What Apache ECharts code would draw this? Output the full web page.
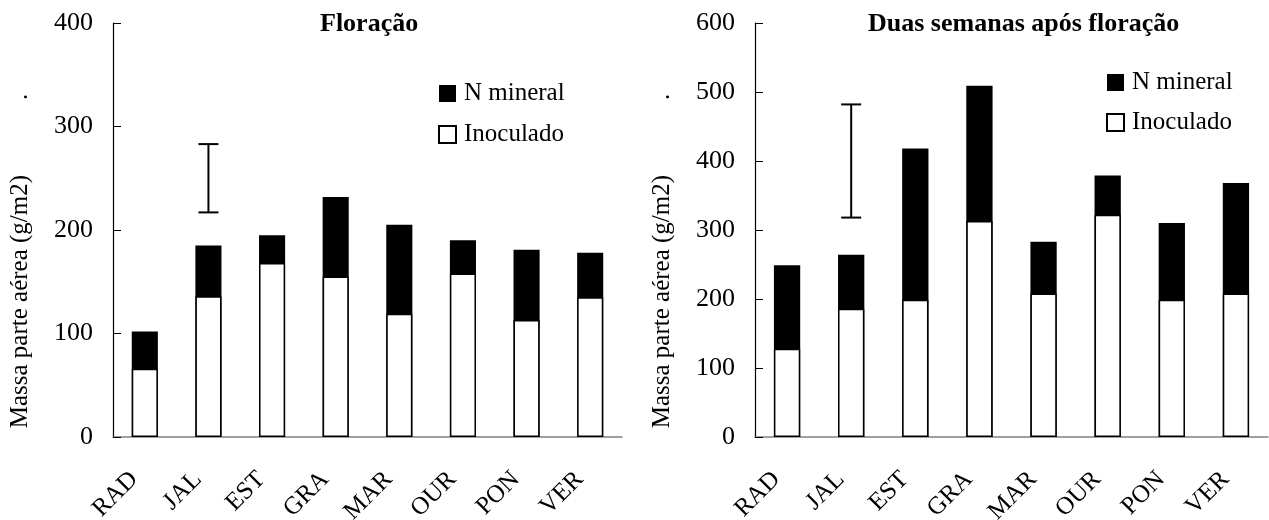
<!DOCTYPE html>
<html>
<head>
<meta charset="utf-8">
<script src="https://cdn.jsdelivr.net/npm/echarts@6/dist/echarts.min.js"></script>
<style>
  html, body { margin: 0; padding: 0; background: #fff; }
  #chart { width: 1269px; height: 520px; }
</style>
</head>
<body>
<div id="chart"></div>
<script>
// cultivares
const categories = ['RAD', 'JAL', 'EST', 'GRA', 'MAR', 'OUR', 'PON', 'VER'];

// Floração
const floMineral = [102, 185, 195, 232, 205, 190, 181, 178];
const floInoculado = [66, 136, 168, 155, 119, 158, 113, 135];
const floErro = [217, 283];

// Duas semanas após floração
const duasMineral = [249, 264, 418, 509, 283, 379, 310, 368];
const duasInoculado = [128, 186, 199, 313, 208, 322, 199, 208];
const duasErro = [318, 482];

const erroCat = 'JAL';
const yName = 'Massa parte aérea (g/m2)            .';
const font = 'Liberation Serif';

const chart = echarts.init(document.getElementById('chart'));

function xAxis(gridIndex) {
    return {
        type: 'category',
        gridIndex: gridIndex,
        data: categories,
        axisLine: { lineStyle: { color: '#808080', width: 1.5 } },
        axisTick: { show: false },
        axisLabel: {
            rotate: 45, margin: 28, color: '#000',
            fontFamily: font, fontSize: 25,
            padding: [0, 15, 0, 0]
        }
    };
}

function yAxis(gridIndex, max) {
    return {
        type: 'value',
        gridIndex: gridIndex,
        min: 0, max: max, interval: 100,
        name: yName,
        nameLocation: 'middle',
        nameGap: 80,
        nameTextStyle: {
            color: '#000', fontFamily: font, fontSize: 25,
            padding: [0, 62, 0, 0]
        },
        axisLine: { show: true, lineStyle: { color: '#000', width: 1.2 } },
        axisTick: { show: true, inside: true, length: 8, lineStyle: { color: '#000' } },
        splitLine: { show: false },
        axisLabel: { color: '#000', fontFamily: font, fontSize: 26, margin: 20 }
    };
}

function erroItem(params, api) {
    const x = api.coord([api.value(0), api.value(1)])[0];
    const yLow = api.coord([api.value(0), api.value(1)])[1];
    const yHigh = api.coord([api.value(0), api.value(2)])[1];
    const half = 10;
    const style = { stroke: '#000', lineWidth: 2 };
    return {
        type: 'group',
        children: [
            { type: 'line', shape: { x1: x, y1: yLow, x2: x, y2: yHigh }, style: style },
            { type: 'line', shape: { x1: x - half, y1: yLow, x2: x + half, y2: yLow }, style: style },
            { type: 'line', shape: { x1: x - half, y1: yHigh, x2: x + half, y2: yHigh }, style: style }
        ]
    };
}

const legendText = { fontFamily: font, fontSize: 25, color: '#000', lineHeight: 22, padding: [0, 0, 0, 3] };

const option = {
    animation: false,
    backgroundColor: '#fff',
    textStyle: { fontFamily: font },
    title: [
        {
            text: 'Floração', left: 320, top: 11, padding: 0,
            textStyle: { fontFamily: font, fontSize: 26, fontWeight: 'bold', color: '#000' }
        },
        {
            text: 'Duas semanas após floração', left: 868, top: 11, padding: 0,
            textStyle: { fontFamily: font, fontSize: 26, fontWeight: 'bold', color: '#000' }
        }
    ],
    legend: [
        {
            left: 438, top: 81, orient: 'vertical', padding: 0,
            data: ['N mineral', 'Inoculado'],
            icon: 'rect', itemWidth: 17, itemHeight: 17, itemGap: 16,
            textStyle: legendText
        },
        {
            left: 1106, top: 70, orient: 'vertical', padding: 0,
            data: ['N mineral', 'Inoculado'],
            icon: 'rect', itemWidth: 17, itemHeight: 17, itemGap: 15,
            textStyle: legendText
        }
    ],
    grid: [
        { left: 113, right: 647, top: 23, bottom: 83, outerBoundsMode: 'none', containLabel: false },
        { left: 755, right: 1, top: 23, bottom: 83, outerBoundsMode: 'none', containLabel: false }
    ],
    xAxis: [xAxis(0), xAxis(1)],
    yAxis: [yAxis(0, 400), yAxis(1, 600)],
    series: [
        {
            name: 'N mineral', type: 'bar', xAxisIndex: 0, yAxisIndex: 0,
            data: floMineral, barWidth: '41%', barGap: '-100%',
            itemStyle: { color: '#000' }
        },
        {
            name: 'Inoculado', type: 'bar', xAxisIndex: 0, yAxisIndex: 0,
            data: floInoculado, barWidth: '41%', barGap: '-100%',
            itemStyle: { color: '#fff', borderColor: '#000', borderWidth: 1.5 }
        },
        {
            name: 'N mineral', type: 'bar', xAxisIndex: 1, yAxisIndex: 1,
            data: duasMineral, barWidth: '41%', barGap: '-100%',
            itemStyle: { color: '#000' }
        },
        {
            name: 'Inoculado', type: 'bar', xAxisIndex: 1, yAxisIndex: 1,
            data: duasInoculado, barWidth: '41%', barGap: '-100%',
            itemStyle: { color: '#fff', borderColor: '#000', borderWidth: 1.5 }
        },
        {
            name: 'erro', type: 'custom', xAxisIndex: 0, yAxisIndex: 0,
            renderItem: erroItem,
            data: [[categories.indexOf(erroCat), floErro[0], floErro[1]]],
            z: 5
        },
        {
            name: 'erro2', type: 'custom', xAxisIndex: 1, yAxisIndex: 1,
            renderItem: erroItem,
            data: [[categories.indexOf(erroCat), duasErro[0], duasErro[1]]],
            z: 5
        }
    ]
};

chart.setOption(option);
</script>
</body>
</html>
